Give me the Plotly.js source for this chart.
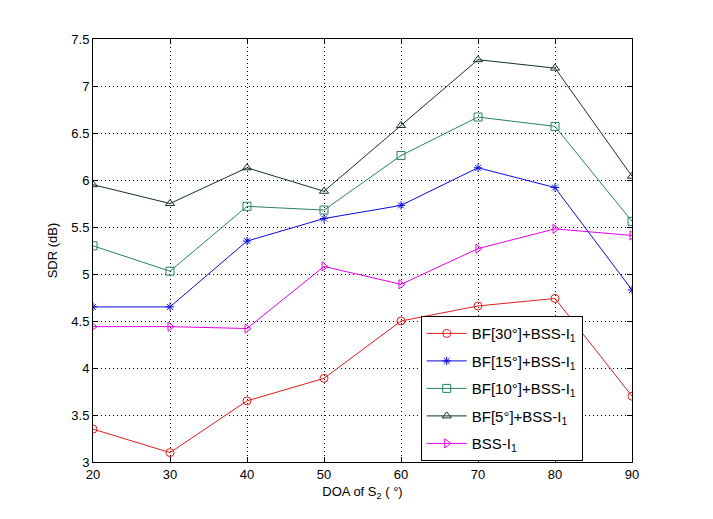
<!DOCTYPE html>
<html><head><meta charset="utf-8">
<script src="https://cdn.plot.ly/plotly-3.0.1.min.js"></script>
<style>html,body{margin:0;padding:0;background:#fff}#c{width:713px;height:519px}</style>
</head><body><div id="c"></div>
<script>
var doa = [20, 30, 40, 50, 60, 70, 80, 90];
var bf30 = [3.35, 3.10, 3.65, 3.89, 4.50, 4.66, 4.74, 3.70];
var bf15 = [4.65, 4.65, 5.35, 5.59, 5.73, 6.13, 5.92, 4.83];
var bf10 = [5.30, 5.03, 5.72, 5.68, 6.26, 6.67, 6.57, 5.56];
var bf5  = [5.95, 5.75, 6.13, 5.88, 6.58, 7.28, 7.19, 6.04];
var bss  = [4.44, 4.44, 4.42, 5.08, 4.89, 5.27, 5.48, 5.41];
var names = ['BF[30°]+BSS-I<sub>1</sub>', 'BF[15°]+BSS-I<sub>1</sub>', 'BF[10°]+BSS-I<sub>1</sub>', 'BF[5°]+BSS-I<sub>1</sub>', 'BSS-I<sub>1</sub>'];
var xticks = [20, 30, 40, 50, 60, 70, 80, 90];
var yticks = [3, 3.5, 4, 4.5, 5, 5.5, 6, 6.5, 7, 7.5];

function tr(y, name, color, sym, sz, g) {
  return {x: doa, y: y, name: name, type: 'scatter', mode: 'lines+markers', legendgroup: g,
    line: {color: color, width: 1},
    marker: {symbol: sym, size: sz, color: color, line: {color: color, width: 1}}};
}
var data = [
  tr(bf30, names[0], 'rgb(220,30,30)', 'circle-open', 8, 'a'),
  tr(bf15, names[1], 'rgb(10,10,220)', 'asterisk-open', 7, 'b'),
  tr(bf10, names[2], 'rgb(40,130,100)', 'square-open', 8, 'c'),
  tr(bf5,  names[3], 'rgb(20,50,40)', 'triangle-up-open', 8, 'd'),
  tr(bss,  names[4], 'rgb(230,0,230)', 'triangle-right-open', 8, 'e')
];
var ax = {showline: true, mirror: 'ticks', linecolor: '#000', linewidth: 1,
  ticks: 'inside', ticklen: 5, tickcolor: '#000', showgrid: true,
  gridcolor: '#000', griddash: '1px,3px', gridwidth: 1, zeroline: false,
  tickfont: {family: 'Liberation Sans, Arial, sans-serif', size: 13, color: '#000'}};
var layout = {
  width: 713, height: 519,
  margin: {l: 93, r: 81, t: 39, b: 57},
  paper_bgcolor: '#fff', plot_bgcolor: '#fff',
  font: {family: 'Liberation Sans, Arial, sans-serif', color: '#000'},
  xaxis: Object.assign({}, ax, {range: [20, 90], tickvals: xticks,
    title: {text: 'DOA of S<sub>2</sub> ( °)', font: {size: 13}, standoff: 6}}),
  yaxis: Object.assign({}, ax, {range: [3, 7.5], tickvals: yticks, ticktext: yticks.map(String),
    title: {text: 'SDR (dB)', font: {size: 13}, standoff: 10}}),
  showlegend: true,
  legend: {x: 0.608, y: 0.002, xanchor: 'left', yanchor: 'bottom',
    bgcolor: '#fff', bordercolor: '#000', borderwidth: 1,
    font: {size: 15, color: '#000'}, tracegroupgap: 5, itemwidth: 40}
};
Plotly.newPlot('c', data, layout, {staticPlot: true, displayModeBar: false});
</script></body></html>
